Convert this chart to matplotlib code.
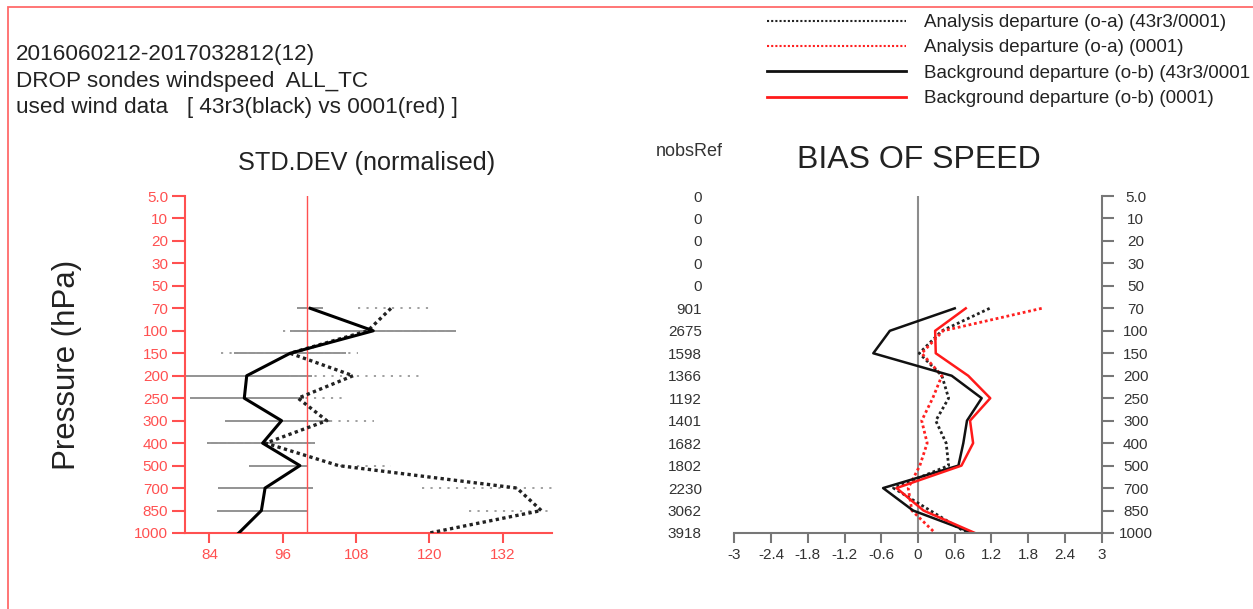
import matplotlib
matplotlib.use('Agg')
import matplotlib.pyplot as plt
from matplotlib.lines import Line2D
from matplotlib.patches import Rectangle

plt.rcParams['font.family'] = ['Liberation Sans', 'DejaVu Sans']

# pressure levels (top to bottom) and number of reference obs per level
levels = ['5.0', '10', '20', '30', '50', '70', '100', '150', '200', '250',
          '300', '400', '500', '700', '850', '1000']
nobs_ref = ['0', '0', '0', '0', '0', '901', '2675', '1598', '1366', '1192',
            '1401', '1682', '1802', '2230', '3062', '3918']
data_levels = ['70', '100', '150', '200', '250', '300', '400', '500', '700', '850', '1000']

# STD.DEV (normalised), solid = o-b, dotted = o-a, with their ranges
std_ob = [100.5, 110.8, 97.2, 90.1, 89.7, 95.8, 92.7, 98.8, 93.1, 92.5, 88.8]
std_ob_lo = [98.3, 97.2, 88.0, 80.2, 80.8, 86.6, 83.6, 90.5, 85.4, 85.3, 82.5]
std_ob_hi = [102.6, 124.3, 106.3, 100.8, 99.4, 103.7, 101.2, 100.0, 100.9, 100.0, 95.0]
std_oa = [113.7, 109.9, 97.2, 107.5, 98.5, 103.2, 93.2, 105.1, 134.3, 138.3, 120.0]
std_oa_lo = [108.3, 96.1, 85.9, 97.0, 98.3, 101.0, 84.0, 105.4, 118.8, 126.4, 109.0]
std_oa_hi = [120.2, 123.0, 108.3, 118.8, 106.2, 111.0, 101.0, 113.7, 140.0, 140.0, 131.0]

# BIAS OF SPEED
bias_oa_exp = [1.17, 0.39, 0.02, 0.39, 0.50, 0.29, 0.46, 0.50, -0.40, 0.20, 0.80]
bias_oa_ref = [2.02, 0.41, 0.06, 0.39, 0.24, 0.06, 0.15, 0.03, -0.16, -0.10, 0.28]
bias_ob_exp = [0.60, -0.46, -0.73, 0.55, 1.04, 0.80, 0.74, 0.66, -0.57, -0.08, 0.90]
bias_ob_ref = [0.78, 0.28, 0.29, 0.82, 1.18, 0.85, 0.90, 0.71, -0.35, 0.09, 0.93]

bias_ticks = [-3, -2.4, -1.8, -1.2, -0.6, 0, 0.6, 1.2, 1.8, 2.4, 3]
bias_labels = ['-3', '-2.4', '-1.8', '-1.2', '-0.6', '0', '0.6', '1.2', '1.8', '2.4', '3']
std_ticks = [84, 96, 108, 120, 132]

W, H = 1253, 609
fig = plt.figure(figsize=(W / 100, H / 100), dpi=100)

ypos = [levels.index(l) for l in data_levels]
allpos = list(range(len(levels)))
axred = '#ff5050'
gray = '#777777'
txt = '#333333'

# ---- left panel: std dev
ax1 = fig.add_axes([185 / W, 1 - 533 / H, 366.7 / W, 337 / H])
ax1.hlines(ypos, std_ob_lo, std_ob_hi, color='#8a8a8a', lw=1.3, zorder=1)
ax1.hlines(ypos, std_oa_lo, std_oa_hi, color='#999999', lw=1.3,
           linestyles=(0, (1.2, 3.5)), zorder=1)
ax1.axvline(100, color=axred, lw=1.0, zorder=2)
ax1.plot(std_ob, ypos, color='black', lw=2.2, zorder=4)
ax1.plot(std_oa, ypos, color='#222222', lw=2.4, ls=(0, (1, 1)), zorder=3)
ax1.set_xlim(80, 140)
ax1.set_ylim(len(levels) - 1, 0)
ax1.set_yticks(allpos)
ax1.set_yticklabels(levels)
ax1.set_xticks(std_ticks)
for s in ['top', 'right']:
    ax1.spines[s].set_visible(False)
for s in ['left', 'bottom']:
    ax1.spines[s].set_color(axred)
    ax1.spines[s].set_linewidth(1.5)
ax1.tick_params(axis='y', colors=axred, length=9.5, width=1.5, pad=2.5, labelsize=11)
ax1.tick_params(axis='x', colors=axred, length=7.2, width=1.5, pad=3.5, labelsize=11)
ax1.set_facecolor('none')

# ---- right panel: bias
ax2 = fig.add_axes([734.3 / W, 1 - 533 / H, 367.4 / W, 337 / H])
ax2.axvline(0, color='#8c8c8c', lw=1.5, zorder=1)
ax2.plot(bias_oa_exp, ypos, color='#222222', lw=2.0, ls=(0, (1, 1)))
ax2.plot(bias_oa_ref, ypos, color='#ff2020', lw=2.0, ls=(0, (1, 1)))
ax2.plot(bias_ob_exp, ypos, color='#111111', lw=1.8)
ax2.plot(bias_ob_ref, ypos, color='#ff1a1a', lw=1.8)
ax2.set_xlim(-3, 3)
ax2.set_ylim(len(levels) - 1, 0)
ax2.set_xticks(bias_ticks)
ax2.set_xticklabels(bias_labels)
ax2.set_yticks(allpos)
ax2.set_yticklabels(nobs_ref)
for s in ['top', 'right', 'left']:
    ax2.spines[s].set_visible(False)
ax2.spines['bottom'].set_color(gray)
ax2.spines['bottom'].set_linewidth(1.5)
ax2.tick_params(axis='x', colors=gray, labelcolor=txt, length=7.2, width=1.5,
                pad=3.5, labelsize=11)
ax2.tick_params(axis='y', length=0, pad=23.3, labelcolor=txt, labelsize=11)

ax2r = ax2.twinx()
ax2r.set_ylim(len(levels) - 1, 0)
ax2r.set_yticks(allpos)
ax2r.set_yticklabels(levels)
for s in ['top', 'left', 'bottom']:
    ax2r.spines[s].set_visible(False)
ax2r.spines['right'].set_color(gray)
ax2r.spines['right'].set_linewidth(1.5)
ax2r.tick_params(axis='y', colors=gray, labelcolor=txt, length=8.6, width=1.5,
                 pad=16, labelsize=11)
for t in ax2r.get_yticklabels():
    t.set_horizontalalignment('center')

# ---- texts
fig.text(16 / W, 1 - 81 / H,
         '2016060212-2017032812(12)\nDROP sondes windspeed  ALL_TC\n'
         'used wind data   [ 43r3(black) vs 0001(red) ]',
         fontsize=16.2, va='center', ha='left', color='#222222', linespacing=1.37)
fig.text(367 / W, 1 - 163 / H, 'STD.DEV (normalised)', fontsize=18.2,
         ha='center', va='center', color='#222222')
fig.text(919 / W, 1 - 160 / H, 'BIAS OF SPEED', fontsize=23,
         ha='center', va='center', color='#222222')
fig.text(689.5 / W, 1 - 151 / H, 'nobsRef', fontsize=13, ha='center',
         va='center', color=txt)
fig.text(67 / W, 1 - 365 / H, 'Pressure (hPa)', fontsize=22.5, rotation=90,
         ha='center', va='center', color='#222222')

# ---- legend
handles = [
    Line2D([], [], color='#222222', lw=1.5, ls=(0, (1, 1))),
    Line2D([], [], color='#ff2020', lw=1.5, ls=(0, (1, 1))),
    Line2D([], [], color='#111111', lw=2.0),
    Line2D([], [], color='#ff1a1a', lw=2.0),
]
labels = ['Analysis departure (o-a) (43r3/0001)',
          'Analysis departure (o-a) (0001)',
          'Background departure (o-b) (43r3/0001',
          'Background departure (o-b) (0001)']
fig.legend(handles, labels, loc='upper left', bbox_to_anchor=(767 / W, 1 - 14 / H),
           frameon=False, fontsize=13.5, handlelength=7.4, handletextpad=1.0,
           labelspacing=0.44, borderpad=0, borderaxespad=0, labelcolor='#222222')

# red frame round the page
fig.patches.append(Rectangle((8 / W, -0.1), 1.2, 1.1 - 7 / H, transform=fig.transFigure,
                             fill=False, edgecolor='#ff6a6a', lw=1.3))

fig.savefig('out.png', dpi=100)
